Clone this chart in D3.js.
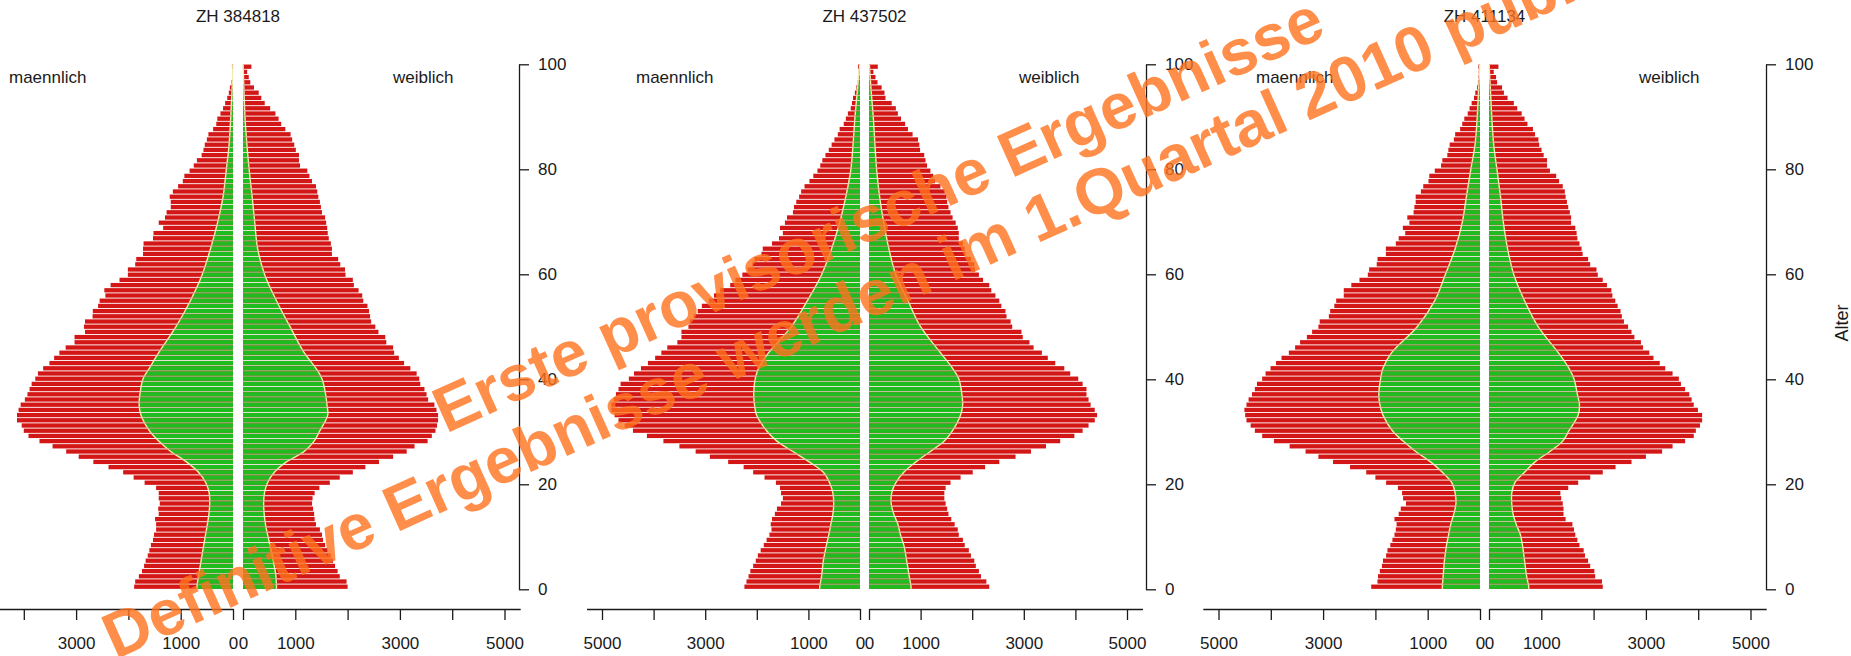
<!DOCTYPE html>
<html><head><meta charset="utf-8">
<script src="https://cdn.jsdelivr.net/npm/d3@7"></script>
<style>
body{margin:0;background:#fff;}
svg{display:block;}
text{font-family:"Liberation Sans",Arial,sans-serif;}
</style></head><body>
<svg id="c" width="1851" height="656"></svg>
<script>
// ---------- data ----------
const ages = d3.range(0, 101);
const titles = ["ZH 384818", "ZH 437502", "ZH 411134"];
const maleLabel = "maennlich", femaleLabel = "weiblich", ageTitle = "Alter";
const countTicks = [0, 1000, 2000, 3000, 4000, 5000];
const countTickLabels = ["0", "1000", "", "3000", "", "5000"];
const ageTicks = [0, 20, 40, 60, 80, 100];

// total population by single year of age (0..100+), red bars
const p1Male = [1890,1870,1800,1740,1700,1670,1630,1600,1570,1530,1510,1470,1470,1490,1420,1430,1400,1420,1420,1470,1690,1900,2100,2380,2670,2950,3190,3450,3700,3910,4000,4040,4130,4130,4100,4060,3980,3930,3890,3850,3780,3730,3630,3510,3420,3320,3200,3030,3030,2830,2850,2830,2685,2680,2580,2550,2440,2460,2340,2170,2010,2010,1870,1850,1720,1720,1710,1530,1520,1335,1420,1300,1270,1190,1190,1210,1150,1050,960,930,830,750,690,600,565,540,500,470,380,320,300,240,190,150,110,80,60,30,15,10,20];
const p1Female = [2000,1980,1850,1810,1760,1720,1680,1620,1570,1530,1510,1470,1395,1370,1360,1340,1320,1330,1370,1460,1660,1850,2100,2340,2600,2870,3130,3280,3530,3610,3680,3710,3730,3730,3700,3660,3540,3510,3470,3390,3370,3320,3200,3080,2980,2890,2870,2740,2720,2590,2530,2450,2430,2410,2380,2300,2280,2210,2120,2100,1960,1950,1860,1820,1700,1700,1680,1640,1620,1610,1590,1570,1510,1490,1470,1440,1420,1395,1320,1270,1230,1090,1070,1070,1010,980,940,910,810,730,680,620,520,415,350,300,210,140,110,80,160];
const p2Male = [2240,2200,2160,2125,2070,2020,1980,1925,1865,1810,1755,1715,1730,1705,1650,1610,1530,1495,1530,1550,1630,1850,2070,2255,2555,2910,3185,3500,3810,4130,4400,4560,4680,4755,4820,4820,4770,4730,4680,4640,4480,4380,4245,4110,3970,3850,3735,3540,3460,3460,3325,3300,3225,3145,3065,2930,2830,2710,2515,2415,2280,2180,2085,2045,1910,1885,1705,1570,1495,1550,1455,1415,1300,1280,1235,1180,1140,1075,980,905,825,770,730,670,605,550,495,430,395,315,275,235,180,155,135,100,70,45,40,25,40];
const p2Female = [2330,2275,2170,2130,2070,2040,1975,1935,1855,1820,1740,1720,1660,1595,1540,1515,1485,1460,1460,1485,1580,1775,2010,2250,2525,2840,3140,3430,3705,3980,4140,4255,4375,4420,4375,4295,4255,4215,4215,4140,4055,3900,3785,3610,3465,3350,3190,3110,2980,2955,2775,2745,2665,2645,2565,2525,2450,2370,2330,2210,2130,2055,2040,1975,1870,1855,1820,1740,1740,1720,1680,1620,1580,1540,1515,1500,1470,1385,1280,1245,1190,1125,1095,1070,990,975,950,845,755,700,620,560,520,440,320,300,245,165,125,85,170];
const p3Male = [2080,1960,1950,1915,1875,1855,1795,1770,1715,1675,1635,1610,1595,1635,1555,1515,1415,1470,1490,1570,1795,2000,2175,2485,2810,3090,3335,3640,3940,4165,4305,4385,4465,4490,4505,4465,4425,4360,4305,4265,4165,4100,4005,3900,3795,3655,3535,3440,3310,3210,3090,3065,2890,2865,2785,2750,2605,2605,2460,2305,2145,2120,1975,1960,1800,1800,1610,1555,1430,1475,1350,1390,1270,1255,1230,1230,1130,1085,985,970,865,745,720,625,605,580,500,475,380,340,300,235,200,160,115,90,55,40,30,25,30];
const p3Female = [2175,2160,2030,2015,1935,1895,1835,1810,1730,1690,1650,1625,1595,1465,1425,1425,1410,1380,1365,1515,1705,1935,2175,2420,2725,3000,3310,3510,3750,3915,3955,4035,4075,4075,3995,3915,3875,3830,3750,3670,3630,3510,3370,3265,3145,3065,2945,2905,2780,2725,2660,2580,2540,2515,2460,2415,2360,2340,2255,2175,2080,2055,1935,1895,1790,1770,1730,1690,1675,1650,1570,1570,1545,1515,1490,1465,1450,1410,1340,1285,1165,1110,1110,1045,1005,960,945,880,840,735,680,625,540,475,355,285,250,155,135,90,180];

// green overlay (smooth profile), knots at these ages
const greenAges = [0,2,5,8,10,12,14,16,18,20,22,24,26,28,30,33,35,37,40,42,45,50,55,60,65,70,75,80,85,90,95,100];
const p1MaleGreen   = [690,660,610,560,525,490,460,445,455,520,660,890,1190,1420,1600,1760,1795,1780,1720,1600,1420,1090,815,590,430,295,190,130,75,45,20,3];
const p1FemaleGreen = [640,630,580,515,470,430,405,395,410,470,600,830,1170,1360,1470,1620,1605,1580,1510,1395,1170,900,640,415,280,225,175,120,75,40,20,3];
const p2MaleGreen   = [780,745,710,650,605,565,525,510,525,590,710,985,1300,1610,1810,2005,2045,2060,2030,1965,1770,1330,1020,745,550,395,275,180,135,100,55,10];
const p2FemaleGreen = [815,780,730,675,610,560,480,430,440,520,675,910,1190,1460,1620,1775,1815,1800,1740,1620,1385,1000,755,520,385,285,205,150,115,85,45,10];
const p3MaleGreen   = [720,705,680,640,600,560,500,460,475,540,720,945,1230,1470,1675,1855,1915,1935,1900,1855,1690,1200,865,665,475,340,260,180,95,55,30,5];
const p3FemaleGreen = [760,720,680,640,600,520,460,435,435,495,680,880,1165,1410,1530,1705,1730,1690,1625,1530,1325,940,680,475,355,275,220,155,90,55,30,5];

const watermark1 = "Erste provisorische Ergebnisse";
const watermark2 = "Definitive Ergebnisse werden im 1.Quartal 2010 publiziert";

// ---------- layout ----------
const panels = [
  {title: titles[0], male: p1Male, female: p1Female, mg: p1MaleGreen, fg: p1FemaleGreen, mz: 233, fz: 243, k: 0.0523, ax: 519},
  {title: titles[1], male: p2Male, female: p2Female, mg: p2MaleGreen, fg: p2FemaleGreen, mz: 860, fz: 869, k: 0.0516, ax: 1146},
  {title: titles[2], male: p3Male, female: p3Female, mg: p3MaleGreen, fg: p3FemaleGreen, mz: 1480, fz: 1489, k: 0.0523, ax: 1766}
];
const RED = "#d31616", GREEN = "#1fbb1f", EDGE = "#eef0a8", INK = "#1a1a1a";
const FONT = 17;
const axisY = 609;
const yBar = d3.scaleLinear().domain([-0.5, 100.5]).range([589.3, 64.1]);
const yAge = d3.scaleLinear().domain([0, 100]).range([589.3, 64.3]);
const barH = 4.3;
const maxV = 5300;

const svg = d3.select("#c");
svg.append("rect").attr("width", 1851).attr("height", 656).attr("fill", "#fff");

// clip of the age rows (white gaps between rows)
const defs = svg.append("defs");
const clip = defs.append("clipPath").attr("id", "rows");
clip.selectAll("rect").data(ages).join("rect")
  .attr("x", 0).attr("width", 1851)
  .attr("y", a => yBar(a) - barH / 2).attr("height", barH);

panels.forEach(p => {
  const xm = d3.scaleLinear().domain([0, maxV]).range([p.mz, p.mz - maxV * p.k]);
  const xf = d3.scaleLinear().domain([0, maxV]).range([p.fz, p.fz + maxV * p.k]);
  const g = svg.append("g");

  // red bars
  g.selectAll(null).data(ages).join("rect")
    .attr("x", a => xm(p.male[a])).attr("width", a => p.mz - xm(p.male[a]))
    .attr("y", a => yBar(a) - barH / 2).attr("height", barH).attr("fill", RED);
  g.selectAll(null).data(ages).join("rect")
    .attr("x", p.fz).attr("width", a => xf(p.female[a]) - p.fz)
    .attr("y", a => yBar(a) - barH / 2).attr("height", barH).attr("fill", RED);

  // green smooth profile clipped to rows
  const gg = g.append("g").attr("clip-path", "url(#rows)");
  const mk = vals => {
    const pts = greenAges.map((a, i) => ({age: a, v: vals[i]}));
    return [{age: -0.5, v: pts[0].v}].concat(pts, [{age: 100.5, v: pts[pts.length - 1].v}]);
  };
  const curve = d3.curveCatmullRom.alpha(0.5);
  [[xm, p.mz, p.mg], [xf, p.fz, p.fg]].forEach(([xs, z, vals]) => {
    const pts = mk(vals);
    gg.append("path").datum(pts)
      .attr("d", d3.area().y(d => yBar(d.age)).x0(z).x1(d => xs(d.v)).curve(curve))
      .attr("fill", GREEN);
    gg.append("path").datum(pts)
      .attr("d", d3.line().y(d => yBar(d.age)).x(d => xs(d.v)).curve(curve))
      .attr("fill", "none").attr("stroke", EDGE).attr("stroke-width", 1.4);
  });

  // bottom axes
  const styleAxis = sel => {
    sel.attr("font-size", FONT).attr("font-family", "Liberation Sans, Arial, sans-serif");
    sel.selectAll("path,line").attr("stroke", INK).attr("stroke-width", 1.3);
    sel.selectAll("text").attr("fill", INK);
  };
  const dropOffscreen = (sel, xs) => {
    sel.selectAll(".tick").filter(d => xs(d) < 0).select("text").remove();
  };
  g.append("g").attr("transform", `translate(0,${axisY})`)
    .call(d3.axisBottom(xm).tickValues(countTicks).tickFormat((d, i) => countTickLabels[i])
      .tickSize(11).tickSizeOuter(0).tickPadding(17))
    .call(styleAxis).call(s => dropOffscreen(s, xm));
  g.append("g").attr("transform", `translate(0,${axisY})`)
    .call(d3.axisBottom(xf).tickValues(countTicks).tickFormat((d, i) => countTickLabels[i])
      .tickSize(11).tickSizeOuter(0).tickPadding(17))
    .call(styleAxis);

  // age axis
  g.append("g").attr("transform", `translate(${p.ax},0)`)
    .call(d3.axisRight(yAge).tickValues(ageTicks).tickSize(10).tickPadding(9).tickSizeOuter(0))
    .call(styleAxis);

  // texts
  g.append("text").attr("x", (p.mz + p.fz) / 2).attr("y", 22).attr("text-anchor", "middle")
    .attr("font-size", FONT).attr("fill", INK).text(p.title);
  g.append("text").attr("x", p.mz - 224).attr("y", 83).attr("font-size", FONT).attr("fill", INK).text(maleLabel);
  g.append("text").attr("x", p.fz + 150).attr("y", 83).attr("font-size", FONT).attr("fill", INK).text(femaleLabel);
});

svg.append("text").attr("transform", "translate(1848,323) rotate(-90)").attr("text-anchor", "middle")
  .attr("font-size", 18).attr("fill", INK).text(ageTitle);

// watermark
const wm = svg.append("g").attr("transform", "translate(887,234.5) rotate(-24.3)")
  .attr("fill", "rgb(255,115,30)").attr("opacity", 0.8)
  .attr("font-weight", "bold").attr("font-size", 64.5).attr("text-anchor", "middle");
wm.append("text").attr("x", 0).attr("y", 0).text(watermark1);
wm.append("text").attr("x", 0).attr("y", 70).text(watermark2);
</script>
</body></html>
